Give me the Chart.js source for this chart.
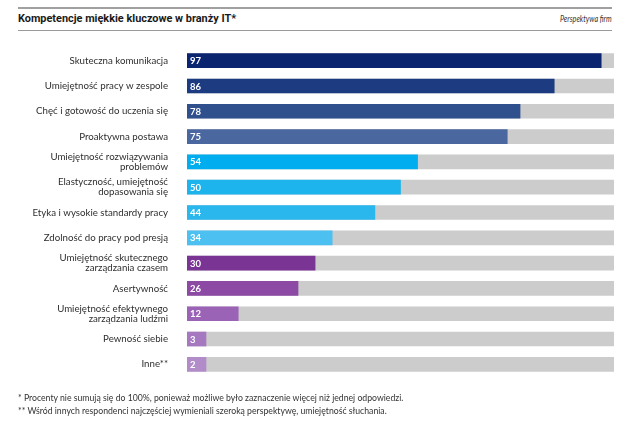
<!DOCTYPE html>
<html><head><meta charset="utf-8">
<script src="https://cdn.jsdelivr.net/npm/chart.js@4/dist/chart.umd.min.js"></script>
<style>
html,body{margin:0;padding:0;background:#fff;width:640px;height:429px;overflow:hidden;font-family:Lato,"Open Sans",sans-serif;}
#wrap{position:absolute;left:0;top:0;width:640px;height:429px;}
.rule{position:absolute;left:18px;width:594px;height:1px;background:#9a9a9a;}
#title{position:absolute;left:18px;top:12px;font-family:"Liberation Sans Narrow",Roboto,sans-serif;font-weight:bold;font-size:10.9px;color:#1a1a1a;}
#sub{position:absolute;right:28px;top:13px;font-family:Lato,sans-serif;font-style:italic;font-weight:400;font-size:9px;color:#333;transform:scaleX(0.8);transform-origin:right center;}
.fn{position:absolute;left:18px;font-family:Lato,sans-serif;font-size:8.7px;color:#333;}
</style></head>
<body>
<div class="rule" style="top:7px;height:2px;background:#a0a0a0"></div>
<div id="title">Kompetencje miękkie kluczowe w branży IT*</div>
<div id="sub">Perspektywa firm</div>
<div class="rule" style="top:30px"></div>
<div id="wrap"><canvas id="c" width="640" height="429"></canvas></div>
<div class="fn" style="top:392px">* Procenty nie sumują się do 100%, ponieważ możliwe było zaznaczenie więcej niż jednej odpowiedzi.</div>
<div class="fn" style="top:405px">** Wśród innych respondenci najczęściej wymieniali szeroką perspektywę, umiejętność słuchania.</div>
<script>
const categories = [
  "Skuteczna komunikacja",
  "Umiejętność pracy w zespole",
  "Chęć i gotowość do uczenia się",
  "Proaktywna postawa",
  ["Umiejętność rozwiązywania","problemów"],
  ["Elastyczność, umiejętność","dopasowania się"],
  "Etyka i wysokie standardy pracy",
  "Zdolność do pracy pod presją",
  ["Umiejętność skutecznego","zarządzania czasem"],
  "Asertywność",
  ["Umiejętność efektywnego","zarządzania ludźmi"],
  "Pewność siebie",
  "Inne**"
];
const values = [97, 86, 78, 75, 54, 50, 44, 34, 30, 26, 12, 3, 2];
const fullScale = [100,100,100,100,100,100,100,100,100,100,100,100,100];
const barColors = ["#0b2470","#1d3b80","#2f4f8d","#4a67a0","#00aeef","#1db3ec","#2ab7ee","#4cc0f0","#7a3594","#8c4aa4","#9b63b5","#a678c0","#b28cc9"];

const valueLabels = {
  id:'valueLabels',
  afterDatasetsDraw(chart){
    const ctx = chart.ctx;
    const meta = chart.getDatasetMeta(0);
    ctx.save();
    ctx.fillStyle = '#fff';
    ctx.font = 'bold 9.5px Lato, sans-serif';
    ctx.textBaseline = 'middle';
    ctx.textAlign = 'left';
    meta.data.forEach((bar,i)=>{
      ctx.fillText(String(values[i]), bar.base + 3, bar.y + 0.5);
    });
    ctx.restore();
  }
};

new Chart(document.getElementById('c'), {
  type:'bar',
  data:{
    labels:categories,
    datasets:[
      {data:values, backgroundColor:barColors, grouped:false, order:1, barThickness:14, minBarLength:19},
      {data:fullScale, backgroundColor:'#cccccc', grouped:false, order:2, barThickness:14}
    ]
  },
  options:{
    indexAxis:'y',
    responsive:false,
    animation:false,
    layout:{padding:{top:48,bottom:52,right:26,left:0}},
    plugins:{legend:{display:false},tooltip:{enabled:false}},
    scales:{
      x:{display:false,min:0,max:100},
      y:{
        grid:{display:false},
        border:{display:false},
        ticks:{color:'#2e2e2e',font:{family:'Lato',size:9.7,lineHeight:1.05},padding:11,autoSkip:false},
        afterFit(s){s.width=187;}
      }
    }
  },
  plugins:[valueLabels]
});
</script>
</body></html>
